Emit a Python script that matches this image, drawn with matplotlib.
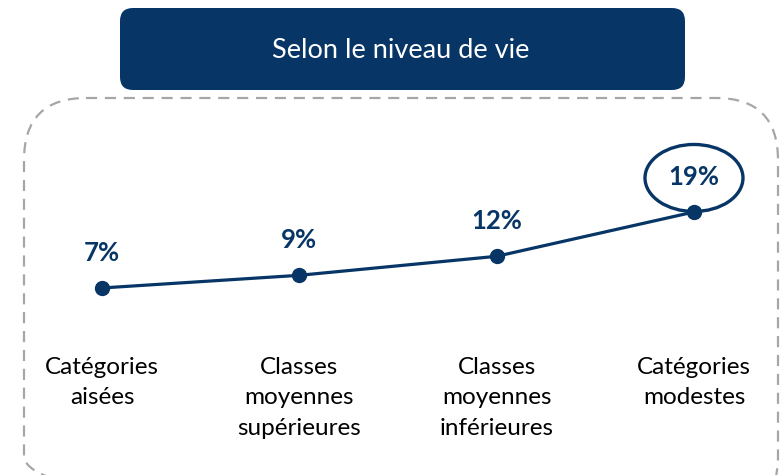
import matplotlib
matplotlib.use("Agg")
import matplotlib.pyplot as plt
from matplotlib.patches import FancyBboxPatch, Ellipse

categories = ["Catégories\naisées", "Classes\nmoyennes\nsupérieures",
              "Classes\nmoyennes\ninférieures", "Catégories\nmodestes"]
values = [7, 9, 12, 19]
labels = ["7%", "9%", "12%", "19%"]
title = "Selon le niveau de vie"

navy = "#073566"
W, H = 783, 475

plt.rcParams['font.family'] = ['Lato', 'DejaVu Sans']
fig = plt.figure(figsize=(W / 100, H / 100), dpi=100)

# background layer in pixel coordinates
bg = fig.add_axes([0, 0, 1, 1])
bg.set_xlim(0, W)
bg.set_ylim(H, 0)
bg.axis("off")

frame = FancyBboxPatch((24, 98), 754, 420, boxstyle="round,pad=0,rounding_size=62",
                       fill=False, ec="#a6a6a6", lw=1.6, ls=(0, (5, 3.5)))
bg.add_patch(frame)
head = FancyBboxPatch((120, 8), 565, 82, boxstyle="round,pad=0,rounding_size=13",
                      fc=navy, ec="none")
bg.add_patch(head)
bg.text(401, 50, title, color="white", fontsize=19.5, ha="center", va="center")

# data layer
ax = fig.add_axes([0, 0, 1, 1], facecolor="none")
step = 197.33
ax.set_xlim(-102 / step, (W - 102) / step)
ppu = 6.333
y0 = 332.3
ax.set_ylim((y0 - H) / ppu, y0 / ppu)
ax.axis("off")

xs = list(range(len(values)))
ax.plot(xs, values, color=navy, lw=2.3, marker="o", ms=10, zorder=3)
for i, (v, lab) in enumerate(zip(values, labels)):
    ax.annotate(lab, (i, v), xytext=(0, 25.5), textcoords="offset points",
                ha="center", va="center", fontsize=18.5, fontweight="bold", color=navy)
    ax.annotate(categories[i], (i, 1 - 357 / H), xycoords=("data", "axes fraction"),
                ha="center", va="top", fontsize=17.5, color="black", linespacing=1.55)

ell = Ellipse((3, values[3]), width=98 / step, height=67 / ppu, fill=False,
              ec=navy, lw=2.4)
ax.add_patch(ell)
ell.set_center((3, values[3] + 34 / ppu))

fig.savefig("out.png", dpi=100)
